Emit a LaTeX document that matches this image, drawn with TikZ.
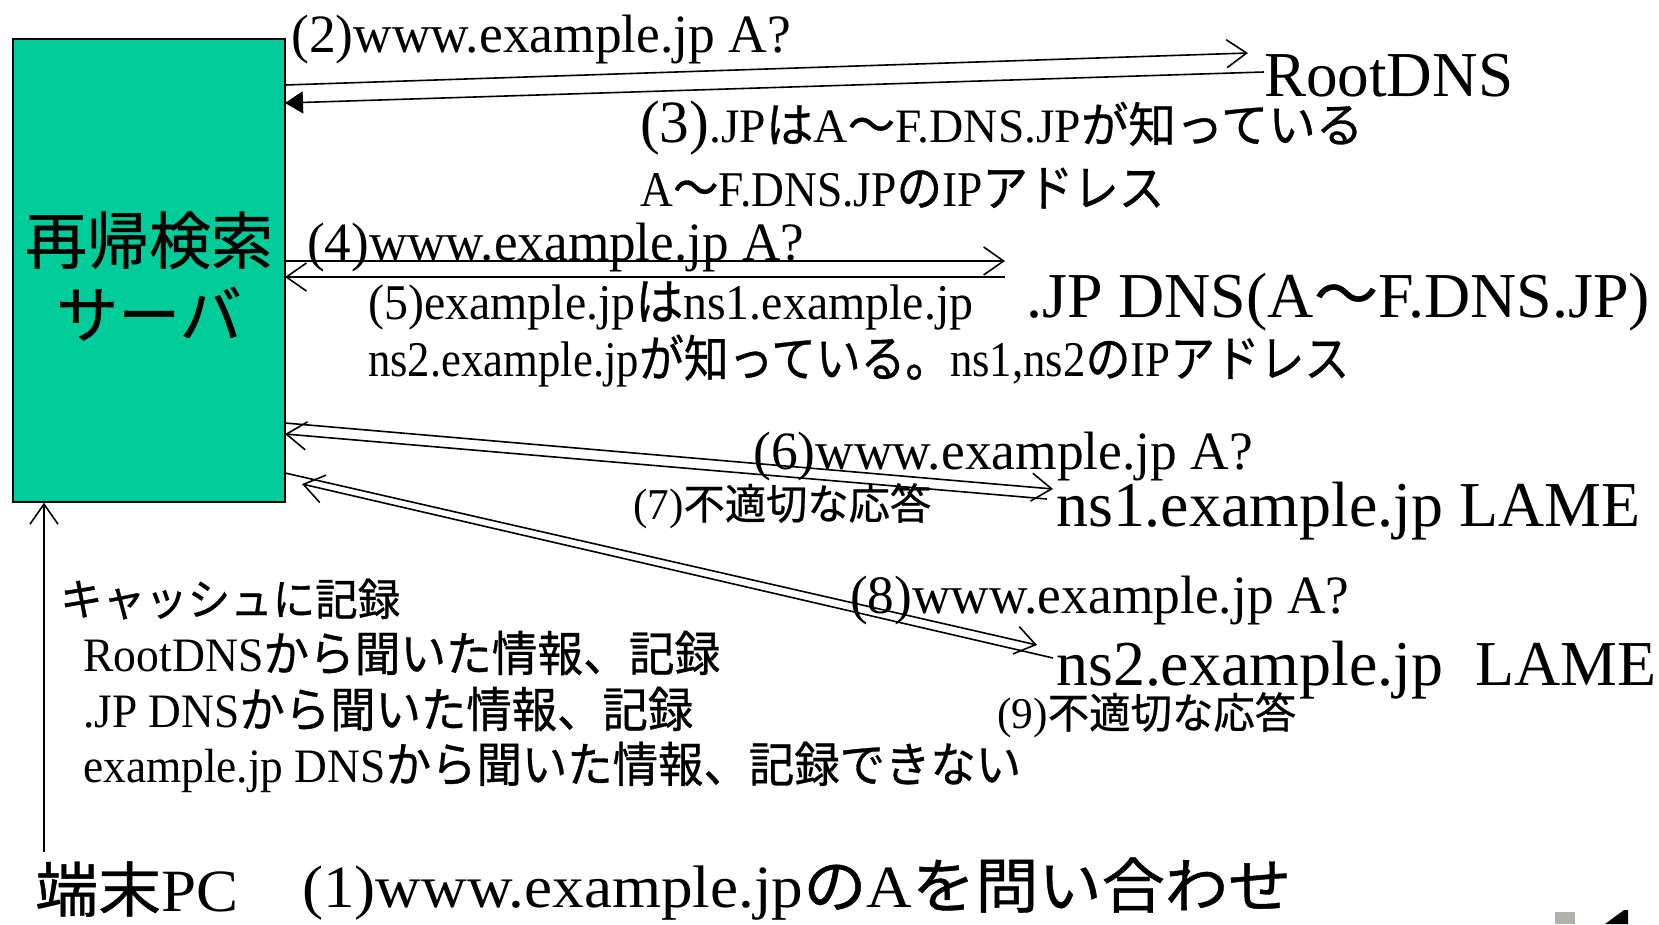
\documentclass[tikz,border=0pt]{standalone}
\usepackage{fontspec}
\usepackage{graphicx}
\setmainfont{Liberation Serif}
\newfontfamily\jpf[FakeBold=0.7]{Noto Sans CJK JP}
\usetikzlibrary{arrows.meta}
\newcommand\J[1]{{\jpf #1}}
\newcommand\fs[1]{\fontsize{#1}{#1}\selectfont}
\newcommand\W[2]{\resizebox{#1pt}{\height}{#2}}
\definecolor{srvgreen}{RGB}{0,204,153}
\definecolor{fraggray}{RGB}{180,176,170}
\tikzset{
  txt/.style={inner sep=0pt, anchor=west},
  conn/.style={line width=1.6pt, -{Straight Barb[length=20pt,width=28pt,line width=1.6pt]}},
  connfill/.style={line width=1.6pt, -{Triangle[length=18pt,width=22pt]}},
}
\begin{document}
\begin{tikzpicture}[x=1pt,y=-1pt]
\useasboundingbox (0,0) rectangle (1659,924);
% server box
\node[draw, fill=srvgreen, line width=1.5pt, minimum width=272pt, minimum height=463pt,
      inner sep=0pt] (srv) at (149,270.5) {};
\node[inner sep=0pt, align=center, font=\jpf\fontsize{62}{74}\selectfont] (srvtxt) at (149,276)
      {再帰検索\\サーバ};
% text nodes
\node[txt] (l2) at (291,40) {\fs{54}\W{500}{(2)www.example.jp A?}};
\node[txt] (root) at (1264,76) {\fs{64}\W{249}{RootDNS}};
\node[txt] (l3a) at (640,128) {\W{723}{{\fs{60}(3)}\fs{48}.JP\J{は}A\J{〜}F.DNS.JP\J{が知っている}}};
\node[txt] (l3b) at (640,188) {\fs{50}\W{524}{A\J{〜}F.DNS.JP\J{の}IP\J{アドレス}}};
\node[txt] (l4) at (307,248) {\fs{54}\W{497}{(4)www.example.jp A?}};
\node[txt] (jpdns) at (1026,302) {\fs{64}\W{624}{.JP DNS(A\J{〜}F.DNS.JP)}};
\node[txt] (l5a) at (368,306) {\fs{50}\W{605}{(5)example.jp\J{は}ns1.example.jp}};
\node[txt] (l5b) at (368,361) {\fs{50}\W{981}{ns2.example.jp\J{が知っている。}ns1,ns2\J{の}IP\J{アドレス}}};
\node[txt] (l6) at (753,457) {\fs{54}\W{500}{(6)www.example.jp A?}};
\node[txt] (ns1) at (1056,511) {\fs{64}\W{584}{ns1.example.jp LAME}};
\node[txt] (l7) at (633,506) {\W{298}{{\fs{44}(7)}\fs{42}\J{不適切な応答}}};
\node[txt] (l8) at (850,601) {\fs{54}\W{499}{(8)www.example.jp A?}};
\node[txt] (ns2) at (1056,670) {\fs{64}\W{600}{ns2.example.jp\ \ LAME}};
\node[txt] (l9) at (997,715) {\W{299}{{\fs{44}(9)}\fs{42}\J{不適切な応答}}};
\node[txt] (c1) at (60,599) {\fs{44}\W{340}{\J{キャッシュに記録}}};
\node[txt] (c2) at (83,653) {\fs{48}\W{637}{RootDNS\J{から聞いた情報、記録}}};
\node[txt] (c3) at (83,709) {\fs{48}\W{610}{.JP DNS\J{から聞いた情報、記録}}};
\node[txt] (c4) at (83,767) {\fs{48}\W{938}{example.jp DNS\J{から聞いた情報、記録できない}}};
\node[txt] (pc) at (35,889) {\fs{60}\W{203}{\J{端末}PC}};
\node[txt] (l1) at (302,889) {\fs{60}\W{989}{(1)www.example.jp\J{の}A\J{を問い合わせ}}};
% connector end points
\coordinate (a2s) at (285,85);   \coordinate (a2e) at (1248,53);
\coordinate (a3s) at (1264,72);  \coordinate (a3e) at (285,103);
\coordinate (a4s) at (285,261);  \coordinate (a4e) at (1005,261);
\coordinate (a5s) at (1005,277); \coordinate (a5e) at (285,277);
\coordinate (a6s) at (285,423);  \coordinate (a6e) at (1053,489);
\coordinate (a7s) at (1047,499); \coordinate (a7e) at (285,434);
\coordinate (a8s) at (285,473);  \coordinate (a8e) at (1037,645);
\coordinate (a9s) at (1053,658); \coordinate (a9e) at (302,484);
\coordinate (pcup) at (44,852);
% connectors
\draw[conn] (a2s) -- (a2e);
\draw[connfill] (a3s) -- (a3e);
\draw[conn] (a4s) -- (a4e);
\draw[conn] (a5s) -- (a5e);
\draw[conn] (a6s) -- (a6e);
\draw[conn] (a7s) -- (a7e);
\draw[conn] (a8s) -- (a8e);
\draw[conn] (a9s) -- (a9e);
\draw[conn] (pcup) -- (pcup |- srv.south);
% fragments at bottom right edge
\fill[fraggray] (1555,912) rectangle (1575,924);
\fill[black] (1605,924) -- (1624,910) -- (1628,910) -- (1628,924) -- cycle;
\end{tikzpicture}
\end{document}
